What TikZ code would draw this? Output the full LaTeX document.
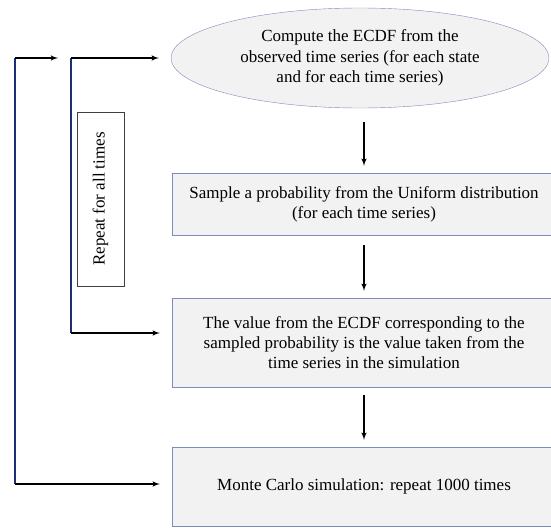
\documentclass[tikz,border=0pt]{standalone}
\usepackage{fontspec}
\setmainfont{Liberation Serif}
\usetikzlibrary{arrows,shapes.geometric}

\definecolor{boxline}{RGB}{125,140,185}
\definecolor{boxfill}{RGB}{242,242,242}
\definecolor{loopblue}{RGB}{30,45,120}

\begin{document}
\begin{tikzpicture}[>=latex', x=1pt, y=-1pt]

\tikzset{
    step box/.style={
        draw=boxline, fill=boxfill, rectangle,
        minimum width=384pt, align=center,
        font=\fontsize{17}{20}\selectfont
    },
    flow arrow/.style={->, line width=1.5pt, shorten <=#1, shorten >=7pt},
    loop line/.style={draw=loopblue, line width=1.8pt},
    loop arrow/.style={->, line width=1.5pt, shorten >=12pt}
}

\useasboundingbox (0,0) rectangle (551,527);

% Steps
\node[ellipse, draw=boxline, fill=boxfill, minimum width=378pt, minimum height=100pt,
      align=center, font=\fontsize{17}{20.5}\selectfont] (ecdf) at (360,58)
      {Compute the ECDF from the\\observed time series (for each state\\and for each time series)};
\node[step box, minimum height=62pt] (sample) at (364,204)
      {Sample a probability from the Uniform distribution\\(for each time series)};
\node[step box, minimum height=89pt] (value) at (364,342.5)
      {The value from the ECDF corresponding to the\\sampled probability is the value taken from the\\time series in the simulation};
\node[step box, minimum height=79pt] (mc) at (364,486.5)
      {Monte Carlo simulation: repeat 1000 times};

% Repeat label
\node[draw=black!75, fill=white, rotate=90, minimum width=174pt, minimum height=47pt,
      font=\fontsize{17}{20}\selectfont] (repeat) at (100.5,199) {Repeat for all times};

% Flow between steps
\draw[flow arrow=14pt] (sample.north |- ecdf.south) -- (sample.north);
\draw[flow arrow=10pt] (sample.south) -- (value.north);
\draw[flow arrow=8pt] (value.south) -- (mc.north);

% Loops
\coordinate (outtop) at (15,58);
\coordinate (outend) at (58,58);
\coordinate (outbot) at (15,484);
\coordinate (intop) at (71,58);
\coordinate (inbot) at (71,333);

\draw[loop line] (outtop) -- (outbot);
\draw[loop line] (intop) -- (inbot);
\draw[->, line width=1.5pt] (outtop) -- (outend);
\draw[loop arrow] (outbot) -- (outbot -| mc.west);
\draw[loop arrow] (intop) -- (intop -| ecdf.west);
\draw[loop arrow] (inbot) -- (inbot -| value.west);

\end{tikzpicture}
\end{document}
